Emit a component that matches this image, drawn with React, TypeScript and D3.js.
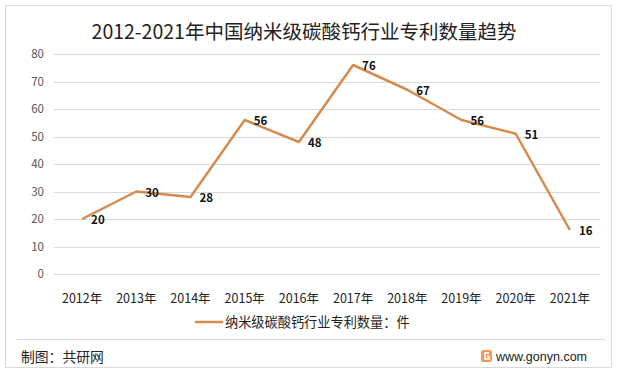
import React, { useRef, useEffect } from "react";
import * as d3 from "d3";

const years = ["2012年", "2013年", "2014年", "2015年", "2016年", "2017年", "2018年", "2019年", "2020年", "2021年"];
const patents = [20, 30, 28, 56, 48, 76, 67, 56, 51, 16];
const yTicks = [0, 10, 20, 30, 40, 50, 60, 70, 80];

const seriesName = "纳米级碳酸钙行业专利数量：件";
const lineColor = "#D68B4E";
const font = "'Microsoft YaHei', 'Noto Sans CJK SC', 'Liberation Sans', sans-serif";

const App = () => {
  const ref = useRef<SVGSVGElement>(null);

  useEffect(() => {
    const svg = d3.select(ref.current);
    svg.selectAll("*").remove();

    const width = 619;
    const height = 374;

    // outer frame
    svg.append("rect")
      .attr("x", 5.5).attr("y", 5.5)
      .attr("width", 606).attr("height", 362)
      .attr("fill", "#fff")
      .attr("stroke", "#d9d9d9");

    svg.append("text")
      .text("2012-2021年中国纳米级碳酸钙行业专利数量趋势")
      .attr("x", 304).attr("y", 39)
      .attr("text-anchor", "middle")
      .style("font-family", font)
      .style("font-size", "19.5px")
      .style("fill", "#222");

    const x = d3.scaleBand().domain(years).range([55, 597]);
    const y = d3.scaleLinear().domain([0, 80]).range([274, 54]);

    // gridlines
    svg.append("g")
      .selectAll("line")
      .data(yTicks)
      .enter()
      .append("line")
      .attr("x1", 54).attr("x2", 600)
      .attr("y1", (d) => Math.round(y(d)) + 0.5)
      .attr("y2", (d) => Math.round(y(d)) + 0.5)
      .attr("stroke", "#d9d9d9");

    svg.append("g")
      .selectAll("text")
      .data(yTicks)
      .enter()
      .append("text")
      .text((d) => d)
      .attr("x", 44)
      .attr("y", (d) => y(d) + 4)
      .attr("text-anchor", "end")
      .style("font-family", font)
      .style("font-size", "11.5px")
      .style("fill", "#555");

    svg.append("g")
      .selectAll("text")
      .data(years)
      .enter()
      .append("text")
      .text((d) => d)
      .attr("x", (d) => x(d)! + x.bandwidth() / 2)
      .attr("y", 303)
      .attr("text-anchor", "middle")
      .style("font-family", font)
      .style("font-size", "12.5px")
      .style("fill", "#222");

    const line = d3.line<number>()
      .x((_, i) => x(years[i])! + x.bandwidth() / 2)
      .y((d) => y(d));

    svg.append("path")
      .datum(patents)
      .attr("d", line)
      .attr("fill", "none")
      .attr("stroke", lineColor)
      .attr("stroke-width", 2.5)
      .attr("stroke-linejoin", "round");

    // value labels
    svg.append("g")
      .selectAll("text")
      .data(patents)
      .enter()
      .append("text")
      .text((d) => d)
      .attr("x", (_, i) => x(years[i])! + x.bandwidth() / 2 + 9)
      .attr("y", (d) => y(d) + 5)
      .style("font-family", font)
      .style("font-size", "11.5px")
      .style("font-weight", "bold")
      .style("fill", "#111");

    // legend
    svg.append("line")
      .attr("x1", 195).attr("x2", 223)
      .attr("y1", 322).attr("y2", 322)
      .attr("stroke", lineColor)
      .attr("stroke-width", 2.5);
    svg.append("text")
      .text(seriesName)
      .attr("x", 225).attr("y", 327)
      .style("font-family", font)
      .style("font-size", "13.2px")
      .style("fill", "#222");

    // footer
    svg.append("line")
      .attr("x1", 17).attr("x2", 605)
      .attr("y1", 339.5).attr("y2", 339.5)
      .attr("stroke", "#d9d9d9");
    svg.append("text")
      .text("制图：共研网")
      .attr("x", 21).attr("y", 362)
      .style("font-family", font)
      .style("font-size", "13.8px")
      .style("fill", "#222");

    const logo = svg.append("g").attr("transform", "translate(481,350)");
    logo.append("rect")
      .attr("width", 11).attr("height", 12).attr("rx", 2)
      .attr("fill", "#F39A5A");
    logo.append("path")
      .attr("d", "M8,3 H4 V9 H8 V6.5 H6")
      .attr("fill", "none")
      .attr("stroke", "#fff")
      .attr("stroke-width", 1.6);
    svg.append("text")
      .text("www.gonyn.com")
      .attr("x", 496).attr("y", 361)
      .style("font-family", "'Liberation Sans', Arial, sans-serif")
      .style("font-size", "12.5px")
      .style("fill", "#222");

    svg.attr("width", width).attr("height", height);
  }, []);

  return (
    <svg ref={ref} width={619} height={374}
      style={{ position: "absolute", left: 0, top: 0, display: "block" }} />
  );
};

export default App;
